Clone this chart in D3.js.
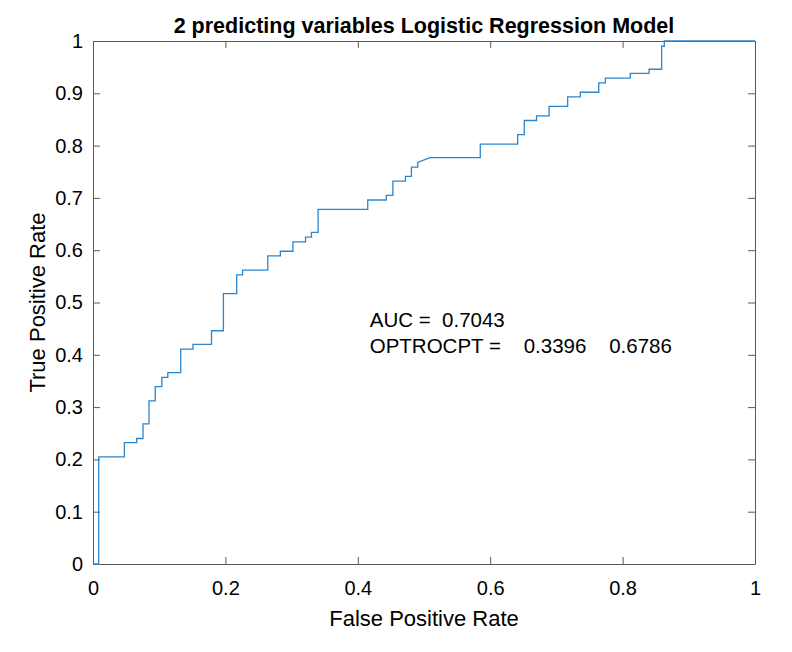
<!DOCTYPE html>
<html>
<head>
<meta charset="utf-8">
<script src="https://cdn.jsdelivr.net/npm/d3@7"></script>
<style>
  body { margin: 0; background: #fff; }
  text { font-family: "Liberation Sans", Arial, sans-serif; fill: #000; }
</style>
</head>
<body>
<div id="viz"></div>
<script>
const width = 792;
const height = 652;
const margin = {top: 41, right: 37, bottom: 88, left: 93};

// ROC curve corners (false positive rate, true positive rate)
const fpr = [0, 0.0086, 0.0086, 0.0474, 0.0474, 0.066, 0.066, 0.0755, 0.0755, 0.0846, 0.0846,
  0.094, 0.094, 0.104, 0.104, 0.113, 0.113, 0.1325, 0.1325, 0.151, 0.151, 0.179, 0.179,
  0.197, 0.197, 0.217, 0.217, 0.226, 0.226, 0.264, 0.264, 0.283, 0.283, 0.302, 0.302,
  0.321, 0.321, 0.330, 0.330, 0.340, 0.340, 0.415, 0.415, 0.443, 0.443, 0.453, 0.453,
  0.472, 0.472, 0.481, 0.481, 0.4905, 0.4905, 0.509, 0.585, 0.585, 0.6415, 0.6415,
  0.6515, 0.6515, 0.670, 0.670, 0.689, 0.689, 0.717, 0.717, 0.736, 0.736, 0.764, 0.764,
  0.774, 0.774, 0.8116, 0.8116, 0.840, 0.840, 0.859, 0.859, 0.863, 0.863, 1];
const tpr = [0, 0, 0.205, 0.205, 0.232, 0.232, 0.240, 0.240, 0.268, 0.268, 0.312,
  0.312, 0.339, 0.339, 0.357, 0.357, 0.366, 0.366, 0.411, 0.411, 0.420, 0.420, 0.446,
  0.446, 0.517, 0.517, 0.553, 0.553, 0.562, 0.562, 0.589, 0.589, 0.598, 0.598, 0.616,
  0.616, 0.625, 0.625, 0.634, 0.634, 0.678, 0.678, 0.696, 0.696, 0.705, 0.705, 0.732,
  0.732, 0.741, 0.741, 0.759, 0.759, 0.768, 0.777, 0.777, 0.803, 0.803, 0.821,
  0.821, 0.848, 0.848, 0.857, 0.857, 0.875, 0.875, 0.893, 0.893, 0.902, 0.902, 0.920,
  0.920, 0.929, 0.929, 0.938, 0.938, 0.946, 0.946, 0.990, 0.990, 1, 1];

const xTicks = [0, 0.2, 0.4, 0.6, 0.8, 1];
const yTicks = [0, 0.1, 0.2, 0.3, 0.4, 0.5, 0.6, 0.7, 0.8, 0.9, 1];

const titleText = '2 predicting variables Logistic Regression Model';
const xLabel = 'False Positive Rate';
const yLabel = 'True Positive Rate';
const aucText = 'AUC =  0.7043';
const optText = 'OPTROCPT =    0.3396    0.6786';

const innerW = width - margin.left - margin.right;
const innerH = height - margin.top - margin.bottom;

const svg = d3.select('#viz')
  .append('svg')
    .attr('width', width)
    .attr('height', height);

const x = d3.scaleLinear().domain([0, 1]).range([0, innerW]);
const y = d3.scaleLinear().domain([0, 1]).range([innerH, 0]);

const g = svg.append('g')
  .attr('transform', `translate(${margin.left},${margin.top})`);

const axisColor = '#595959';
const fmt = d => d === 0 || d === 1 ? String(d) : d3.format('.1f')(d);

// bottom + left axes with ticks pointing inward (matlab style)
const xAxis = g.append('g')
  .attr('transform', `translate(0,${innerH})`)
  .call(d3.axisBottom(x).tickValues(xTicks).tickFormat(fmt).tickSizeInner(-7).tickSizeOuter(0).tickPadding(17));
const yAxis = g.append('g')
  .call(d3.axisLeft(y).tickValues(yTicks).tickFormat(fmt).tickSizeInner(-7).tickSizeOuter(0).tickPadding(10));
// mirrored top + right ticks
const xTop = g.append('g')
  .call(d3.axisTop(x).tickValues(xTicks).tickFormat('').tickSizeInner(-7).tickSizeOuter(0));
const yRight = g.append('g')
  .attr('transform', `translate(${innerW},0)`)
  .call(d3.axisRight(y).tickValues(yTicks).tickFormat('').tickSizeInner(-7).tickSizeOuter(0));

[xAxis, yAxis, xTop, yRight].forEach(a => {
  a.selectAll('path, line').attr('stroke', axisColor).attr('stroke-width', 1);
  a.selectAll('text').style('font-size', '20px').attr('fill', '#262626');
});

// roc curve
const line = d3.line()
  .x((d, i) => x(fpr[i]))
  .y((d, i) => y(tpr[i]));

g.append('path')
  .datum(fpr)
  .attr('fill', 'none')
  .attr('stroke', '#2a86cf')
  .attr('stroke-width', 1.3)
  .attr('d', line);

// annotation
g.append('text')
  .attr('x', x(0.418))
  .attr('y', y(0.453))
  .style('font-size', '20.5px')
  .style('white-space', 'pre')
  .text(aucText);
g.append('text')
  .attr('x', x(0.418))
  .attr('y', y(0.404))
  .style('font-size', '20.5px')
  .style('white-space', 'pre')
  .text(optText);

// title and axis labels
svg.append('text')
  .attr('x', margin.left + innerW / 2)
  .attr('y', 33)
  .attr('text-anchor', 'middle')
  .style('font-size', '21.5px')
  .style('font-weight', 'bold')
  .text(titleText);

svg.append('text')
  .attr('x', margin.left + innerW / 2)
  .attr('y', 626)
  .attr('text-anchor', 'middle')
  .style('font-size', '22px')
  .attr('fill', '#262626')
  .text(xLabel);

svg.append('text')
  .attr('transform', `translate(45,${margin.top + innerH / 2}) rotate(-90)`)
  .attr('text-anchor', 'middle')
  .style('font-size', '22px')
  .attr('fill', '#262626')
  .text(yLabel);
</script>
</body>
</html>
